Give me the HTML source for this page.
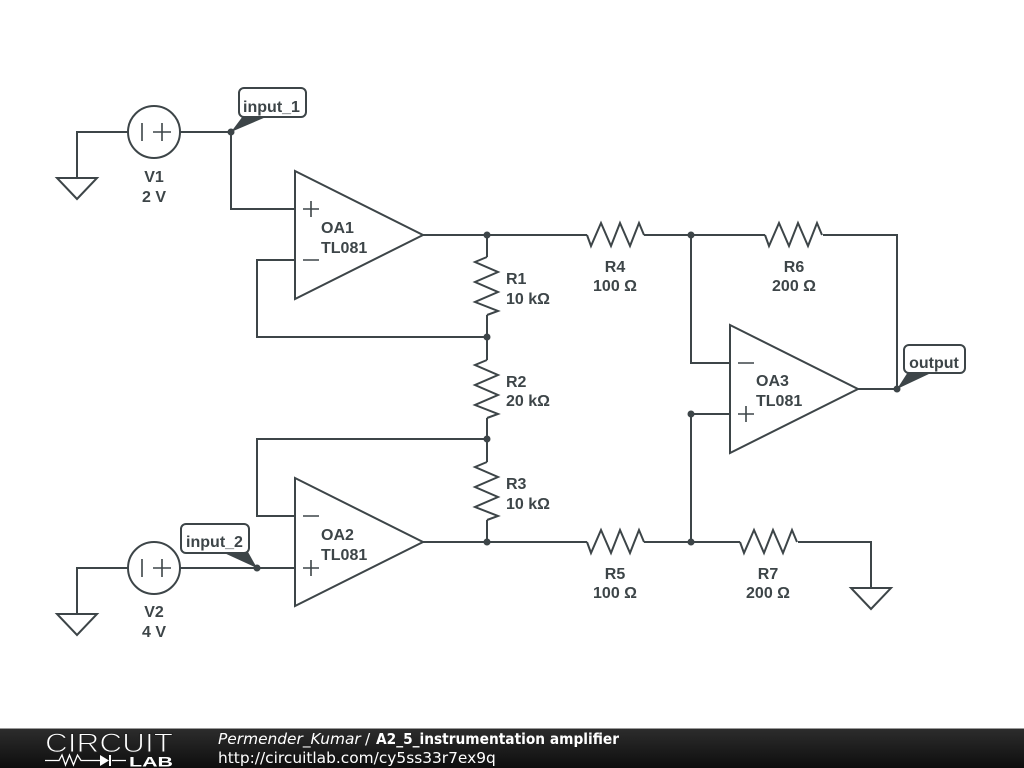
<!DOCTYPE html>
<html>
<head>
<meta charset="utf-8">
<style>
html,body{margin:0;padding:0;background:#fff;width:1024px;height:768px;overflow:hidden}
svg{display:block}
.w{fill:none;stroke:#3d4548;stroke-width:2;stroke-linejoin:miter}
.s{fill:none;stroke:#3d4548;stroke-width:1.6}
.t{font-family:"Liberation Sans",sans-serif;font-weight:bold;font-size:16px;fill:#3d4548;text-anchor:middle}
.l{text-anchor:start}
.f{font-family:"DejaVu Sans",sans-serif;font-size:15.4px;fill:#fff}
</style>
</head>
<body>
<svg width="1024" height="768" viewBox="0 0 1024 768" xmlns="http://www.w3.org/2000/svg">
<defs>
<linearGradient id="g" x1="0" y1="0" x2="0" y2="1">
<stop offset="0" stop-color="#2c2c2c"/><stop offset="1" stop-color="#0e0e0e"/>
</linearGradient>
</defs>
<rect width="1024" height="768" fill="#fff"/>

<!-- wires -->
<path class="w" d="M128 132H77V178M180 132H231V209H295M128 568H77V614M180 568H295"/>
<path class="w" d="M295 260H257V337H487M295 516H257V439H487"/>
<path class="w" d="M423 235H587M644 235H765M823 235H897V389H858"/>
<path class="w" d="M423 542H587M644 542H740M798 542H871V588"/>
<path class="w" d="M487 235V257M487 315V360M487 418V462M487 520V542"/>
<path class="w" d="M691 235V363H730M691 542V414H730"/>

<!-- grounds -->
<path class="w" d="M57 178H97L77 199ZM57 614H97L77 635ZM851 588H891L871 609Z"/>

<!-- sources -->
<circle class="w" cx="154" cy="132" r="26"/>
<path class="s" d="M142 123V141M153 132H171M162 123V141"/>
<circle class="w" cx="154" cy="568" r="26"/>
<path class="s" d="M142 559V577M153 568H171M162 559V577"/>

<!-- op-amps -->
<path class="w" d="M295 171L423 235L295 299Z"/>
<path class="s" d="M303 209H319M311 201V217M303 260H319"/>
<path class="w" d="M295 478L423 542L295 606Z"/>
<path class="s" d="M303 516H319M303 568H319M311 560V576"/>
<path class="w" d="M730 325L858 389L730 453Z"/>
<path class="s" d="M738 363H754M738 414H754M746 406V422"/>

<!-- resistors -->
<path class="w" d="M587 235L591 246L601 223L611 246L620 223L630 246L639 223L644 235"/>
<path class="w" d="M765 235L769 246L779 223L789 246L798 223L808 246L817 223L822 235"/>
<path class="w" d="M587 542L591 553L601 530L611 553L620 530L630 553L639 530L644 542"/>
<path class="w" d="M740 542L744 553L754 530L764 553L773 530L783 553L792 530L797 542"/>
<path class="w" d="M487 257L475 262L498 272L475 282L498 292L475 302L498 311L487 315"/>
<path class="w" d="M487 360L475 365L498 375L475 385L498 395L475 405L498 414L487 418"/>
<path class="w" d="M487 462L475 467L498 477L475 487L498 497L475 507L498 516L487 520"/>

<!-- junctions -->
<g fill="#3d4548">
<circle cx="231" cy="132" r="3.500"/><circle cx="487" cy="235" r="3.500"/>
<circle cx="487" cy="337" r="3.500"/><circle cx="487" cy="439" r="3.500"/>
<circle cx="487" cy="542" r="3.500"/><circle cx="691" cy="235" r="3.500"/>
<circle cx="691" cy="414" r="3.500"/><circle cx="691" cy="542" r="3.500"/>
<circle cx="897" cy="389" r="3.500"/><circle cx="257" cy="568" r="3.500"/>
<!-- flag wedges -->
<path d="M231 132L243 116L266 117Z"/>
<path d="M257 568L248 552L222 552Z"/>
<path d="M897 389L908 372L931 373Z"/>
</g>

<!-- flags -->
<g fill="#fff" stroke="#3d4548" stroke-width="2">
<rect x="239" y="88" width="67" height="29" rx="5"/>
<rect x="181" y="524" width="68" height="29" rx="5"/>
<rect x="904" y="345" width="61" height="28" rx="5"/>
</g>
<text class="t" x="271.500" y="112">input_1</text>
<text class="t" x="214.500" y="547">input_2</text>
<text class="t" x="934" y="368">output</text>

<!-- labels -->
<text class="t" x="154" y="182">V1</text><text class="t" x="154" y="202">2 V</text>
<text class="t" x="154" y="617">V2</text><text class="t" x="154" y="637">4 V</text>
<text class="t l" x="321" y="233">OA1</text><text class="t l" x="321" y="253">TL081</text>
<text class="t l" x="321" y="540">OA2</text><text class="t l" x="321" y="560">TL081</text>
<text class="t l" x="756" y="386">OA3</text><text class="t l" x="756" y="406">TL081</text>
<text class="t l" x="506" y="284">R1</text><text class="t l" x="506" y="304">10 kΩ</text>
<text class="t l" x="506" y="387">R2</text><text class="t l" x="506" y="406">20 kΩ</text>
<text class="t l" x="506" y="489">R3</text><text class="t l" x="506" y="509">10 kΩ</text>
<text class="t" x="615" y="272">R4</text><text class="t" x="615" y="291">100 Ω</text>
<text class="t" x="615" y="579">R5</text><text class="t" x="615" y="598">100 Ω</text>
<text class="t" x="794" y="272">R6</text><text class="t" x="794" y="291">200 Ω</text>
<text class="t" x="768" y="579">R7</text><text class="t" x="768" y="598">200 Ω</text>

<!-- footer -->
<rect x="0" y="728" width="1024" height="1" fill="#999"/>
<rect x="0" y="729" width="1024" height="39" fill="url(#g)"/>
<text x="45" y="752" font-family="Liberation Sans,sans-serif" font-size="27" fill="#fff" stroke="#222" stroke-width="1" paint-order="fill stroke" textLength="128" lengthAdjust="spacingAndGlyphs">CIRCUIT</text>
<path d="M45 760.500H59L62 755L65.500 765L69.500 755L73.500 765L77.500 755L81 760.500H100M112 760.500H126" fill="none" stroke="#fff" stroke-width="1.300"/>
<path d="M100 755V766L109 760.500ZM109 755H111V766H109Z" fill="#fff"/>
<text x="129" y="766.500" font-family="Liberation Sans,sans-serif" font-weight="bold" font-size="13.500" fill="#fff" textLength="44" lengthAdjust="spacingAndGlyphs">LAB</text>
<text class="f" x="218" y="744" font-style="oblique">Permender_Kumar</text>
<text class="f" x="365" y="744">/</text>
<text class="f" x="376" y="744" font-weight="bold" textLength="243" lengthAdjust="spacingAndGlyphs">A2_5_instrumentation amplifier</text>
<text class="f" x="218" y="763">http://circuitlab.com/cy5ss33r7ex9q</text>
</svg>
</body>
</html>
